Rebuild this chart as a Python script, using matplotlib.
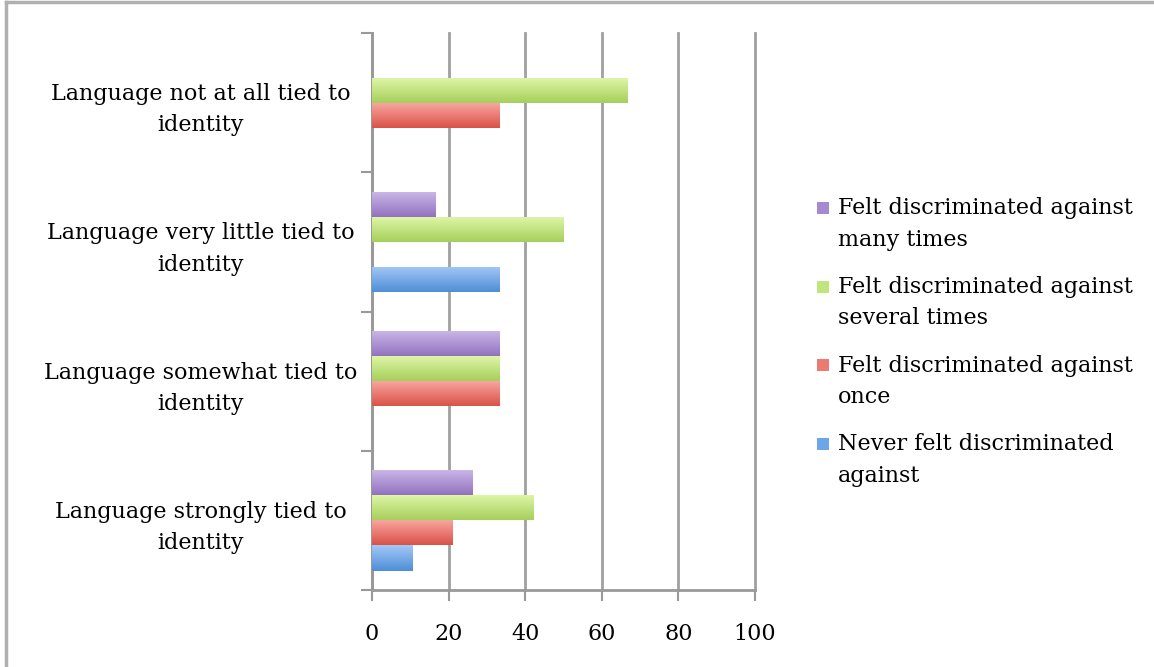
import numpy as np
import matplotlib
matplotlib.use('Agg')
import matplotlib.pyplot as plt
from matplotlib.colors import LinearSegmentedColormap
from matplotlib.patches import Rectangle

categories = ['Language strongly tied to\nidentity',
              'Language somewhat tied to\nidentity',
              'Language very little tied to\nidentity',
              'Language not at all tied to\nidentity']

series = ['Felt discriminated against\nmany times',
          'Felt discriminated against\nseveral times',
          'Felt discriminated against\nonce',
          'Never felt discriminated\nagainst']

# values per category (bottom to top), one list per series
many = [26.3, 33.3, 16.7, 0]
several = [42.1, 33.3, 50.0, 66.7]
once = [21.1, 33.3, 0, 33.3]
never = [10.5, 0, 33.3, 0]

tops = ['#cbb8e8', '#e0f7a8', '#f9a8a2', '#a2c8f7']
bottoms = ['#9272bf', '#a6cf5c', '#da5248', '#4f8ed6']
legend_cols = ['#a58ad0', '#bfe57e', '#ec7a72', '#6da6e6']

plt.rcParams['font.family'] = 'DejaVu Serif'
FS = 16

W, H = 1154, 667
fig = plt.figure(figsize=(W / 100, H / 100), dpi=100)
ax = fig.add_axes([372 / W, 1 - 590 / H, 383 / W, 557 / H])

y = np.arange(len(categories))
h = 0.18
offsets = [1.5 * h, 0.5 * h, -0.5 * h, -1.5 * h]
grad = np.linspace(1, 0, 64).reshape(-1, 1)

for vals, off, c_top, c_bot in zip([many, several, once, never], offsets, tops, bottoms):
    cmap = LinearSegmentedColormap.from_list('g', [c_bot, c_top])
    bars = ax.barh(y + off, vals, height=h, color='none', edgecolor='none', zorder=3)
    for b in bars:
        if b.get_width() <= 0:
            continue
        x0, y0 = b.get_x(), b.get_y()
        im = ax.imshow(grad, cmap=cmap, aspect='auto', origin='upper',
                       extent=[x0, x0 + b.get_width(), y0, y0 + b.get_height()],
                       zorder=3, interpolation='bilinear')
        im.set_clip_path(b)

ax.set_xlim(0, 100)
ax.set_ylim(-0.5, 3.5)
ax.set_xticks(np.arange(0, 101, 20))
ax.tick_params(axis='x', labelsize=FS, length=8, width=1.5, color='#999999',
               direction='out', pad=16)
ax.xaxis.grid(True, color='#a0a0a0', linewidth=2, zorder=0)
for gl in ax.get_xgridlines():
    gl.set_clip_on(False)

ax.set_yticks(np.arange(-0.5, 4, 1))
ax.set_yticklabels([])
ax.tick_params(axis='y', which='major', length=8, width=1.5, color='#999999', direction='out')
ax.set_yticks(y, minor=True)
ax.set_yticklabels(categories, minor=True, fontsize=FS, ha='center',
                   multialignment='center', linespacing=1.55)
ax.tick_params(axis='y', which='minor', length=0, pad=171 * 0.72)

for s in ['top', 'right']:
    ax.spines[s].set_visible(False)
for s in ['left', 'bottom']:
    ax.spines[s].set_color('#999999')
    ax.spines[s].set_linewidth(2)

# legend drawn by hand: square aligned with first text line
for i, (lab, col) in enumerate(zip(series, legend_cols)):
    yc = 224 + i * 78.7
    fig.text(838 / W, 1 - yc / H, lab, fontsize=FS, va='center', ha='left',
             linespacing=1.55)
    fig.add_artist(Rectangle((817 / W, 1 - (yc - 10) / H), 12 / W, 12 / H,
                             facecolor=col, edgecolor='none', transform=fig.transFigure))

# outer frame (left and top edges visible)
fig.add_artist(plt.Line2D([0.0052, 0.0052], [0, 0.997], color='#b0b0b0', lw=2.5,
                          transform=fig.transFigure))
fig.add_artist(plt.Line2D([0.0052, 1], [0.997, 0.997], color='#b0b0b0', lw=2.5,
                          transform=fig.transFigure))

fig.savefig('out.png', dpi=100)
